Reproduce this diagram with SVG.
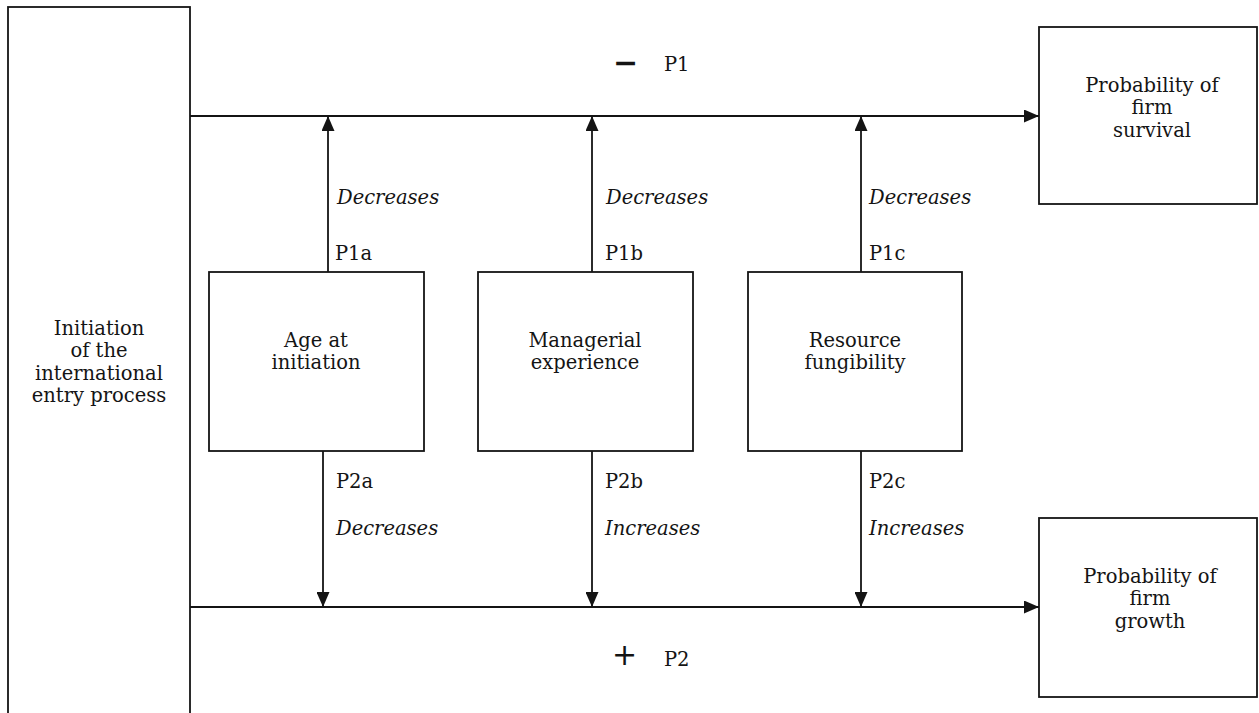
<svg xmlns="http://www.w3.org/2000/svg" width="1259" height="713" viewBox="0 0 1259 713">
  <style>
    .box { fill: #ffffff; stroke: #141414; stroke-width: 1.8; }
    .link { fill: none; stroke: #141414; stroke-width: 1.8; }
    .t { font-family: "DejaVu Serif", "Liberation Serif", serif; font-size: 19.5px; fill: #141414; }
    .c { text-anchor: middle; }
    .i { font-style: italic; }
    .sym { font-family: "DejaVu Sans", "Liberation Sans", sans-serif; font-size: 30px; fill: #141414; }
  </style>
  <defs>
    <marker id="arrow" viewBox="0 0 15 13" refX="15" refY="6.5" markerWidth="15" markerHeight="13" markerUnits="userSpaceOnUse" orient="auto">
      <path d="M0,0 L15,6.5 L0,13 Z" fill="#141414"/>
    </marker>
  </defs>
  <rect width="1259" height="713" fill="#ffffff"/>

  <!-- connectors -->
  <g id="connectors">
    <line class="link" x1="190" y1="116" x2="1039" y2="116" marker-end="url(#arrow)"/>
    <line class="link" x1="190" y1="607" x2="1039" y2="607" marker-end="url(#arrow)"/>
    <line class="link" x1="328" y1="272" x2="328" y2="116" marker-end="url(#arrow)"/>
    <line class="link" x1="592" y1="272" x2="592" y2="116" marker-end="url(#arrow)"/>
    <line class="link" x1="861" y1="272" x2="861" y2="116" marker-end="url(#arrow)"/>
    <line class="link" x1="323" y1="451" x2="323" y2="607" marker-end="url(#arrow)"/>
    <line class="link" x1="592" y1="451" x2="592" y2="607" marker-end="url(#arrow)"/>
    <line class="link" x1="861" y1="451" x2="861" y2="607" marker-end="url(#arrow)"/>
  </g>

  <!-- connector labels -->
  <g id="labels">
    <text class="sym" x="613" y="73" font-weight="bold">−</text>
    <text class="t" x="664" y="71">P1</text>
    <text class="sym" x="612" y="665">+</text>
    <text class="t" x="664" y="666">P2</text>

    <text class="t i" x="337" y="204">Decreases</text>
    <text class="t" x="335" y="260">P1a</text>
    <text class="t i" x="606" y="204">Decreases</text>
    <text class="t" x="605" y="260">P1b</text>
    <text class="t i" x="869" y="204">Decreases</text>
    <text class="t" x="869" y="260">P1c</text>

    <text class="t" x="336" y="488">P2a</text>
    <text class="t i" x="336" y="535">Decreases</text>
    <text class="t" x="605" y="488">P2b</text>
    <text class="t i" x="605" y="535">Increases</text>
    <text class="t" x="869" y="488">P2c</text>
    <text class="t i" x="869" y="535">Increases</text>
  </g>

  <g id="initiation">
    <rect class="box" x="8" y="7" width="182" height="720"/>
    <text class="t c" x="99" y="335">Initiation</text>
    <text class="t c" x="99" y="357">of the</text>
    <text class="t c" x="99" y="380">international</text>
    <text class="t c" x="99" y="402">entry process</text>
  </g>

  <g id="age">
    <rect class="box" x="209" y="272" width="215" height="179"/>
    <text class="t c" x="316" y="347">Age at</text>
    <text class="t c" x="316" y="369">initiation</text>
  </g>

  <g id="experience">
    <rect class="box" x="478" y="272" width="215" height="179"/>
    <text class="t c" x="585" y="347">Managerial</text>
    <text class="t c" x="585" y="369">experience</text>
  </g>

  <g id="fungibility">
    <rect class="box" x="748" y="272" width="214" height="179"/>
    <text class="t c" x="855" y="347">Resource</text>
    <text class="t c" x="855" y="369">fungibility</text>
  </g>

  <g id="survival">
    <rect class="box" x="1039" y="27" width="218" height="177"/>
    <text class="t c" x="1152" y="92">Probability of</text>
    <text class="t c" x="1152" y="114">firm</text>
    <text class="t c" x="1152" y="137">survival</text>
  </g>

  <g id="growth">
    <rect class="box" x="1039" y="518" width="218" height="179"/>
    <text class="t c" x="1150" y="583">Probability of</text>
    <text class="t c" x="1150" y="605">firm</text>
    <text class="t c" x="1150" y="628">growth</text>
  </g>
</svg>
